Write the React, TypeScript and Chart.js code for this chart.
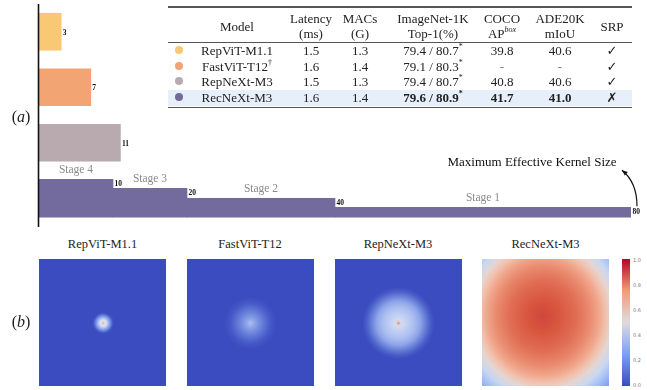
import React, { useEffect, useRef } from 'react';
import { Chart, registerables } from 'chart.js';

Chart.register(...registerables);

// ---------- data ----------
const models = ['RepViT-M1.1', 'FastViT-T12', 'RepNeXt-M3', 'RecNeXt-M3'];
const modelColors = ['#F9C874', '#F3A473', '#B8AAAE', '#736A9E'];
const kernelSizes = [3, 7, 11]; // max effective kernel size of first three models
const stageNames = ['Stage 4', 'Stage 3', 'Stage 2', 'Stage 1'];
const stageKernelSizes = [10, 20, 40, 80]; // RecNeXt-M3 per stage
const tableModels = ['RepViT-M1.1', 'FastViT-T12', 'RepNeXt-M3', 'RecNeXt-M3'];
const latency = ['1.5', '1.6', '1.5', '1.6'];
const macs = ['1.3', '1.4', '1.3', '1.4'];
const top1 = ['79.4 / 80.7', '79.1 / 80.3', '79.4 / 80.7', '79.6 / 80.9'];
const cocoAP = ['39.8', '-', '40.8', '41.7'];
const adeMIoU = ['40.6', '-', '40.6', '41.0'];
const srp = ['✓', '✓', '✓', '✗'];
const colorbarTicks = ['1.0', '0.8', '0.6', '0.4', '0.2', '0.0'];

const SERIF = "'Liberation Serif', 'Times New Roman', Times, serif";
const stageThickness = [38, 29, 19, 10];

const stepPlugin = {
  id: 'stepPlugin',
  afterDatasetsUpdate(chart: any) {
    const y = chart.scales.y;
    const center = y.getPixelForValue(3);
    const bottom = center + stageThickness[0] / 2;
    for (let i = 1; i <= stageNames.length; i++) {
      const el = chart.getDatasetMeta(i).data[3];
      if (el) el.y = bottom - el.height / 2;
    }
  },
  afterDraw(chart: any) {
    const ctx = chart.ctx;
    const area = chart.chartArea;
    ctx.save();
    // axis line
    ctx.strokeStyle = '#111';
    ctx.lineWidth = 1.6;
    ctx.beginPath();
    ctx.moveTo(area.left - 0.5, area.top);
    ctx.lineTo(area.left - 0.5, area.bottom + 1);
    ctx.stroke();

    // value labels
    ctx.fillStyle = '#111';
    ctx.font = `bold 7.5px ${SERIF}`;
    ctx.textAlign = 'left';
    ctx.textBaseline = 'middle';
    const meta0 = chart.getDatasetMeta(0);
    kernelSizes.forEach((v, j) => {
      const el = meta0.data[j];
      ctx.fillText(String(v), el.x + 1.5, el.y + 1);
    });
    let stage1Top = 0;
    stageNames.forEach((name, i) => {
      const el = chart.getDatasetMeta(i + 1).data[3];
      const top = el.y - el.height / 2;
      if (i === stageNames.length - 1) stage1Top = top;
      ctx.fillStyle = '#111';
      ctx.font = `bold 7.5px ${SERIF}`;
      ctx.textAlign = 'left';
      ctx.textBaseline = 'middle';
      ctx.fillText(String(stageKernelSizes[i]), el.x + 1.5, top + 5);
      ctx.fillStyle = '#8a8a8a';
      ctx.font = `11.5px ${SERIF}`;
      ctx.textAlign = 'center';
      ctx.fillText(name, (el.base + el.x) / 2, top - 9.5);
    });

    // annotation
    ctx.fillStyle = '#111';
    ctx.font = `13px ${SERIF}`;
    ctx.textAlign = 'center';
    ctx.textBaseline = 'middle';
    ctx.fillText('Maximum Effective Kernel Size', area.right - 99, stage1Top - 45);

    // arrow
    const sx = area.right + 6, sy = stage1Top - 1;
    const ex = area.right - 9, ey = stage1Top - 37;
    const cx = area.right + 6, cy = stage1Top - 25;
    ctx.strokeStyle = '#111';
    ctx.lineWidth = 1.2;
    ctx.beginPath();
    ctx.moveTo(sx, sy);
    ctx.quadraticCurveTo(cx, cy, ex, ey);
    ctx.stroke();
    const ang = Math.atan2(ey - cy, ex - cx);
    const L = 6, W = 0.4;
    ctx.beginPath();
    ctx.moveTo(ex, ey);
    ctx.lineTo(ex - L * Math.cos(ang - W), ey - L * Math.sin(ang - W));
    ctx.lineTo(ex - L * Math.cos(ang + W), ey - L * Math.sin(ang + W));
    ctx.closePath();
    ctx.fillStyle = '#111';
    ctx.fill();
    ctx.restore();
  },
};

function BarChart() {
  const ref = useRef<HTMLCanvasElement | null>(null);
  useEffect(() => {
    if (!ref.current) return;
    const stageStarts = [0, ...stageKernelSizes.slice(0, -1)];
    const chart = new Chart(ref.current, {
      type: 'bar',
      data: {
        labels: models,
        datasets: [
          {
            label: 'Max ERF',
            data: [...kernelSizes, null] as any,
            backgroundColor: modelColors,
            barThickness: 37,
            grouped: false,
          } as any,
          ...stageNames.map((s, i) => ({
            label: s,
            data: models.map((_, j) => (j === models.length - 1 ? [stageStarts[i], stageKernelSizes[i]] : null)) as any,
            backgroundColor: modelColors[3],
            barThickness: stageThickness[i],
            grouped: false,
          })),
        ],
      },
      options: {
        indexAxis: 'y',
        responsive: false,
        animation: false,
        events: [],
        layout: { padding: { left: 39, right: 16, top: 4, bottom: 9 } },
        plugins: { legend: { display: false }, tooltip: { enabled: false } },
        scales: {
          x: { type: 'linear', min: 0, max: 80, display: false },
          y: { type: 'category', display: false },
        },
      } as any,
      plugins: [stepPlugin],
    });
    return () => chart.destroy();
  }, []);
  return <canvas ref={ref} width={647} height={235} style={{ position: 'absolute', left: 0, top: 0, display: 'block' }} />;
}

function Cell({ x, y, children, style }: any) {
  return (
    <div
      style={{
        position: 'absolute',
        left: x,
        top: y,
        transform: 'translate(-50%, -50%)',
        whiteSpace: 'nowrap',
        lineHeight: 1,
        ...style,
      }}
    >
      {children}
    </div>
  );
}

const colX = { marker: 179, model: 237, lat: 311, macs: 360, top1: 433, coco: 502, ade: 560, srp: 612 };
const rowY = [50, 65.5, 80.5, 97];

function Table() {
  const sup: any = { fontSize: '8px', verticalAlign: 'super', lineHeight: 0 };
  return (
    <div style={{ position: 'absolute', left: 0, top: 0, fontFamily: SERIF, fontSize: '13px', color: '#222' }}>
      <div style={{ position: 'absolute', left: 168, top: 89.5, width: 464, height: 16, background: '#E7EFFB' }} />
      <div style={{ position: 'absolute', left: 168, top: 6, width: 464, height: 1.5, background: '#555' }} />
      <div style={{ position: 'absolute', left: 168, top: 42, width: 464, height: 1, background: '#555' }} />
      <div style={{ position: 'absolute', left: 168, top: 106.5, width: 464, height: 1.5, background: '#555' }} />
      <Cell x={colX.model} y={26}>Model</Cell>
      <Cell x={colX.lat} y={18}>Latency</Cell>
      <Cell x={colX.lat} y={33}>(ms)</Cell>
      <Cell x={colX.macs} y={18}>MACs</Cell>
      <Cell x={colX.macs} y={33}>(G)</Cell>
      <Cell x={colX.top1} y={18}>ImageNet-1K</Cell>
      <Cell x={colX.top1} y={33}>Top-1(%)</Cell>
      <Cell x={colX.coco} y={18}>COCO</Cell>
      <Cell x={colX.coco} y={33}>
        AP<span style={{ ...sup, fontStyle: 'italic' }}>box</span>
      </Cell>
      <Cell x={colX.ade} y={18}>ADE20K</Cell>
      <Cell x={colX.ade} y={33}>mIoU</Cell>
      <Cell x={colX.srp} y={26}>SRP</Cell>
      {tableModels.map((m, i) => {
        const bold = i === 3 ? { fontWeight: 'bold' } : {};
        return (
          <React.Fragment key={m}>
            <div
              style={{
                position: 'absolute',
                left: colX.marker - 4,
                top: rowY[i] - 4,
                width: 8,
                height: 8,
                borderRadius: 4,
                background: modelColors[i],
              }}
            />
            <Cell x={colX.model} y={rowY[i]}>
              {m}
              {i === 1 ? <span style={sup}>†</span> : null}
            </Cell>
            <Cell x={colX.lat} y={rowY[i]}>{latency[i]}</Cell>
            <Cell x={colX.macs} y={rowY[i]}>{macs[i]}</Cell>
            <Cell x={colX.top1} y={rowY[i]} style={bold}>
              {top1[i]}
              <span style={sup}>*</span>
            </Cell>
            <Cell x={colX.coco} y={rowY[i]} style={cocoAP[i] === '-' ? { color: '#777' } : bold}>{cocoAP[i]}</Cell>
            <Cell x={colX.ade} y={rowY[i]} style={adeMIoU[i] === '-' ? { color: '#777' } : bold}>{adeMIoU[i]}</Cell>
            <Cell x={colX.srp} y={rowY[i]} style={{ fontFamily: "'DejaVu Sans', sans-serif", fontSize: '13px', fontWeight: 'bold' }}>{srp[i]}</Cell>
          </React.Fragment>
        );
      })}
    </div>
  );
}

const heatTitlesX = [102.5, 250, 398, 545.5];
const heatLeft = [39, 187, 335, 482];
const heatBackgrounds = [
  'radial-gradient(circle at 50.5% 50.5%, #F0A080 0px, #EAD8D0 1.5px, #D6E2F8 3px, #A8BEF4 5px, #6E88DE 7.5px, #4558C6 9.5px, #3B4CC0 11px)',
  'radial-gradient(circle at 50% 50.5%, #ACBEEE 0px, #96ABEA 3px, #7990E0 8px, #5C74D4 14px, #4659C8 20px, #3B4CC0 26px)',
  'radial-gradient(circle at 50% 50.5%, #E8704E 0px, #E6C8C0 1.5px, #CFDAF4 3.5px, #C0CEF3 9px, #AABDF0 16px, #8DA4E8 22px, #6880D8 27px, #4A5DC8 32px, #3B4CC0 36px)',
  'radial-gradient(ellipse farthest-corner at 48% 45%, #D0463A 0%, #D9573F 18%, #E06E54 36%, #E98A6E 50%, #F0A68C 60%, #F2C0AC 67%, #E4D6D2 74%, #C9D7F0 82%, #A6C0F7 90%, #7D9CEE 100%)',
];

function Heatmaps() {
  return (
    <div style={{ position: 'absolute', left: 0, top: 0, fontFamily: SERIF }}>
      {models.map((m, i) => (
        <React.Fragment key={m}>
          <Cell x={heatTitlesX[i]} y={244} style={{ fontSize: '12.5px', color: '#222' }}>{m}</Cell>
          <div
            style={{
              position: 'absolute',
              left: heatLeft[i],
              top: 259,
              width: 127,
              height: 127,
              background: heatBackgrounds[i],
            }}
          />
        </React.Fragment>
      ))}
      <div
        style={{
          position: 'absolute',
          left: 622,
          top: 259,
          width: 8,
          height: 127,
          background: 'linear-gradient(to top, #3B4CC0 0%, #7B9FF9 25%, #DDDCDC 50%, #F49A7B 75%, #B40426 100%)',
        }}
      />
      {colorbarTicks.map((t, i) => (
        <div
          key={t}
          style={{
            position: 'absolute',
            left: 633,
            top: 260 + (i * 125) / 5,
            transform: 'translateY(-50%)',
            fontFamily: "'DejaVu Sans', sans-serif",
            fontSize: '5px',
            color: '#777',
            lineHeight: 1,
          }}
        >
          {t}
        </div>
      ))}
    </div>
  );
}

export default function App() {
  return (
    <div
      style={{
        position: 'absolute',
        left: 0,
        top: 0,
        width: 647,
        height: 390,
        overflow: 'hidden',
        background: '#fff',
      }}
    >
      <BarChart />
      <Table />
      <Heatmaps />
      <Cell x={21} y={117} style={{ fontFamily: SERIF, fontSize: '16px', color: '#222' }}>
        (<i>a</i>)
      </Cell>
      <Cell x={21} y={322} style={{ fontFamily: SERIF, fontSize: '16px', color: '#222' }}>
        (<i>b</i>)
      </Cell>
    </div>
  );
}
